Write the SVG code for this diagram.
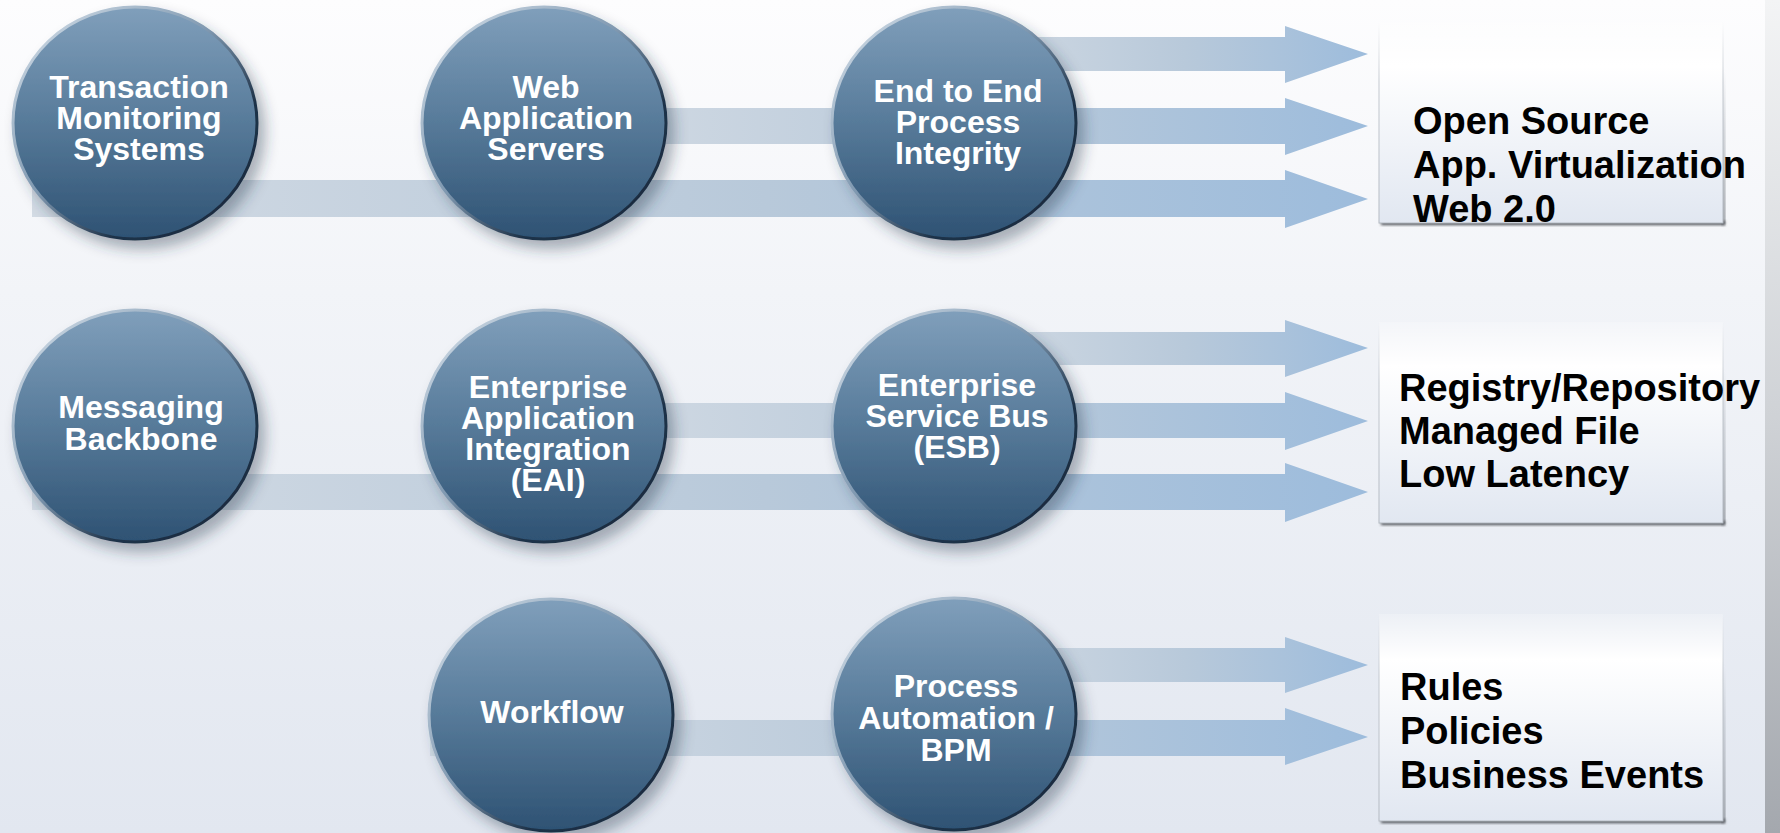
<svg xmlns="http://www.w3.org/2000/svg" width="1780" height="833" viewBox="0 0 1780 833">
  <defs>
    <linearGradient id="bg" x1="0" y1="0" x2="0" y2="1">
      <stop offset="0" stop-color="#fdfdfe"/>
      <stop offset="0.35" stop-color="#f2f4f8"/>
      <stop offset="1" stop-color="#e2e7f0"/>
    </linearGradient>
    <linearGradient id="edge" x1="0" y1="0" x2="0" y2="1">
      <stop offset="0" stop-color="#f3f4f5"/>
      <stop offset="0.5" stop-color="#cfd2d6"/>
      <stop offset="1" stop-color="#a4a8ae"/>
    </linearGradient>
    <linearGradient id="orb" x1="0" y1="0" x2="0" y2="1">
      <stop offset="0" stop-color="#809fbb"/>
      <stop offset="0.45" stop-color="#5b7e9d"/>
      <stop offset="1" stop-color="#2e5273"/>
    </linearGradient>
    <linearGradient id="rim" x1="0" y1="0" x2="1" y2="1">
      <stop offset="0" stop-color="#dbe5ee"/>
      <stop offset="0.45" stop-color="#7f98b0"/>
      <stop offset="0.7" stop-color="#1f3349"/>
      <stop offset="1" stop-color="#15263a"/>
    </linearGradient>
    <linearGradient id="arrowFill" x1="0" y1="0" x2="1" y2="0">
      <stop offset="0" stop-color="#d3dbe4"/>
      <stop offset="0.55" stop-color="#b8c9da"/>
      <stop offset="1" stop-color="#9dbcdc"/>
    </linearGradient>
    <linearGradient id="boxFill" x1="0" y1="0" x2="0" y2="1">
      <stop offset="0" stop-color="#ffffff" stop-opacity="0.2"/>
      <stop offset="0.22" stop-color="#ffffff" stop-opacity="1"/>
      <stop offset="1" stop-color="#e1e7f1"/>
    </linearGradient>
    <linearGradient id="boxEdge" x1="0" y1="0" x2="0" y2="1">
      <stop offset="0" stop-color="#c4c9d0" stop-opacity="0"/>
      <stop offset="0.3" stop-color="#c4c9d0" stop-opacity="1"/>
      <stop offset="1" stop-color="#b4bac2"/>
    </linearGradient>
    <linearGradient id="sideShade" x1="0" y1="0" x2="0" y2="1">
      <stop offset="0" stop-color="#9aa0a8" stop-opacity="0"/>
      <stop offset="0.4" stop-color="#9aa0a8" stop-opacity="0.6"/>
      <stop offset="1" stop-color="#6c7178" stop-opacity="0.9"/>
    </linearGradient>
    <filter id="orbShadow" x="-20%" y="-20%" width="150%" height="150%">
      <feDropShadow dx="7" dy="9" stdDeviation="7" flood-color="#2c3b4c" flood-opacity="0.38"/>
    </filter>
    <filter id="soft" x="-10%" y="-50%" width="120%" height="200%">
      <feGaussianBlur stdDeviation="1.4"/>
    </filter>
    <style>
      .orb { fill: url(#orb); stroke: url(#rim); stroke-width: 3; filter: url(#orbShadow); }
      .lbl { fill: #ffffff; font-family: "Liberation Sans", Arial, sans-serif; font-weight: bold; font-size: 32px; text-anchor: middle; }
      .box { fill: url(#boxFill); stroke: url(#boxEdge); stroke-width: 1; }
      .shb { fill: #4a4d52; filter: url(#soft); }
      .shr { fill: url(#sideShade); filter: url(#soft); }
      .btx { fill: #000000; font-family: "Liberation Sans", Arial, sans-serif; font-weight: bold; font-size: 38px; }
      .arr { fill: url(#arrowFill); }
    </style>
  </defs>

  <rect x="0" y="0" width="1780" height="833" fill="url(#bg)"/>
  <rect x="1765" y="0" width="15" height="833" fill="url(#edge)"/>

  <g id="connectors">
    <path class="arr" d="M960 37 H1285 V26 L1368 54 L1285 83 V71 H960 Z"/>
    <path class="arr" d="M560 108 H1285 V98 L1368 126 L1285 155 V144 H560 Z"/>
    <path class="arr" d="M32 180 H1285 V170 L1368 199 L1285 228 V217 H32 Z"/>
    <path class="arr" d="M960 332 H1285 V320 L1368 348 L1285 377 V365 H960 Z"/>
    <path class="arr" d="M560 403 H1285 V392 L1368 421 L1285 450 V438 H560 Z"/>
    <path class="arr" d="M32 474 H1285 V463 L1368 492 L1285 522 V510 H32 Z"/>
    <path class="arr" d="M960 648 H1285 V637 L1368 665 L1285 693 V682 H960 Z"/>
    <path class="arr" d="M430 720 H1285 V708 L1368 737 L1285 765 V756 H430 Z"/>
  </g>

  <g id="node-tms">
    <ellipse class="orb" cx="135" cy="123" rx="122" ry="116"/>
    <text class="lbl" x="139" y="98">Transaction</text>
    <text class="lbl" x="139" y="129">Monitoring</text>
    <text class="lbl" x="139" y="160">Systems</text>
  </g>
  <g id="node-was">
    <ellipse class="orb" cx="544" cy="123" rx="122" ry="116"/>
    <text class="lbl" x="546" y="98">Web</text>
    <text class="lbl" x="546" y="129">Application</text>
    <text class="lbl" x="546" y="160">Servers</text>
  </g>
  <g id="node-e2e">
    <ellipse class="orb" cx="954" cy="123" rx="122" ry="116"/>
    <text class="lbl" x="958" y="102">End to End</text>
    <text class="lbl" x="958" y="133">Process</text>
    <text class="lbl" x="958" y="164">Integrity</text>
  </g>
  <g id="node-mb">
    <ellipse class="orb" cx="135" cy="426" rx="122" ry="116"/>
    <text class="lbl" x="141" y="418">Messaging</text>
    <text class="lbl" x="141" y="450">Backbone</text>
  </g>
  <g id="node-eai">
    <ellipse class="orb" cx="544" cy="426" rx="122" ry="116"/>
    <text class="lbl" x="548" y="398">Enterprise</text>
    <text class="lbl" x="548" y="429">Application</text>
    <text class="lbl" x="548" y="460">Integration</text>
    <text class="lbl" x="548" y="491">(EAI)</text>
  </g>
  <g id="node-esb">
    <ellipse class="orb" cx="954" cy="426" rx="122" ry="116"/>
    <text class="lbl" x="957" y="396">Enterprise</text>
    <text class="lbl" x="957" y="427">Service Bus</text>
    <text class="lbl" x="957" y="458">(ESB)</text>
  </g>
  <g id="node-workflow">
    <ellipse class="orb" cx="551" cy="715" rx="122" ry="116"/>
    <text class="lbl" x="552" y="723">Workflow</text>
  </g>
  <g id="node-bpm">
    <ellipse class="orb" cx="954" cy="714" rx="122" ry="116"/>
    <text class="lbl" x="956" y="697">Process</text>
    <text class="lbl" x="956" y="729">Automation /</text>
    <text class="lbl" x="956" y="761">BPM</text>
  </g>

  <g id="box-1">
    <rect class="shr" x="1722" y="70" width="3" height="155"/>
    <rect class="shb" x="1381" y="221" width="344" height="4"/>
    <rect class="box" x="1379" y="22" width="344" height="201"/>
    <text class="btx" x="1413" y="134">Open Source</text>
    <text class="btx" x="1413" y="178">App. Virtualization</text>
    <text class="btx" x="1413" y="222">Web 2.0</text>
  </g>
  <g id="box-2">
    <rect class="shr" x="1722" y="370" width="3" height="155"/>
    <rect class="shb" x="1381" y="521" width="344" height="4"/>
    <rect class="box" x="1379" y="322" width="344" height="201"/>
    <text class="btx" x="1399" y="401">Registry/Repository</text>
    <text class="btx" x="1399" y="444">Managed File</text>
    <text class="btx" x="1399" y="487">Low Latency</text>
  </g>
  <g id="box-3">
    <rect class="shr" x="1722" y="665" width="3" height="158"/>
    <rect class="shb" x="1381" y="819" width="344" height="4"/>
    <rect class="box" x="1379" y="614" width="344" height="207"/>
    <text class="btx" x="1400" y="700">Rules</text>
    <text class="btx" x="1400" y="744">Policies</text>
    <text class="btx" x="1400" y="788">Business Events</text>
  </g>
</svg>
